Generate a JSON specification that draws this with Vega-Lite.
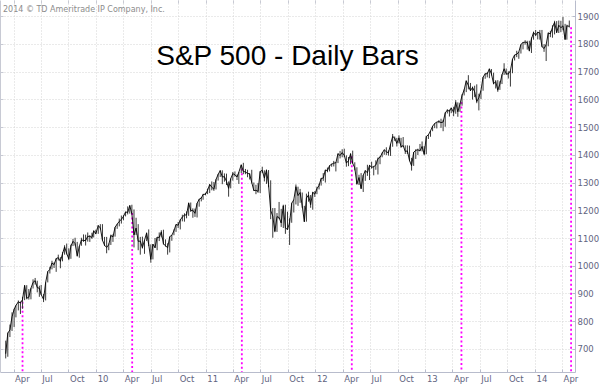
{
"$schema": "https://vega.github.io/schema/vega-lite/v6.json",
"width": 575,
"height": 372,
"autosize": {"type": "none"},
"padding": {"left": 0, "top": 0, "right": 25, "bottom": 12},
"background": "white",
"config": {"view": {"stroke": null}, "font": "DejaVu Sans"},
"title": {"text": "S&P 500 - Daily Bars", "font": "Liberation Sans", "fontSize": 28, "fontWeight": "normal", "color": "#000000", "anchor": "middle", "frame": "group", "baseline": "alphabetic", "offset": -93},
"datasets": {
"may": [
{"d": "2009-05-01", "top": 870},
{"d": "2010-05-01", "top": 1190},
{"d": "2011-05-01", "top": 1350},
{"d": "2012-05-01", "top": 1395},
{"d": "2013-05-01", "top": 1590},
{"d": "2014-05-01", "top": 1860}
],
"note": [{"d": "2009-02-25", "v": 1915, "t": "2014 © TD Ameritrade IP Company, Inc."}],
"px": [
{"d":"2009-03-06","l":666,"h":730,"c":683},
{"d":"2009-03-13","l":672,"h":759,"c":757},
{"d":"2009-03-20","l":743,"h":788,"c":769},
{"d":"2009-03-27","l":765,"h":832,"c":816},
{"d":"2009-04-03","l":779,"h":845,"c":843},
{"d":"2009-04-09","l":814,"h":858,"c":857},
{"d":"2009-04-17","l":839,"h":875,"c":870},
{"d":"2009-04-24","l":826,"h":871,"c":866},
{"d":"2009-05-01","l":845,"h":888,"c":878},
{"d":"2009-05-08","l":876,"h":930,"c":929},
{"d":"2009-05-15","l":879,"h":930,"c":883},
{"d":"2009-05-22","l":878,"h":916,"c":887},
{"d":"2009-05-29","l":879,"h":920,"c":919},
{"d":"2009-06-05","l":918,"h":951,"c":940},
{"d":"2009-06-12","l":932,"h":956,"c":946},
{"d":"2009-06-19","l":904,"h":946,"c":921},
{"d":"2009-06-26","l":888,"h":928,"c":919},
{"d":"2009-07-02","l":895,"h":931,"c":896},
{"d":"2009-07-10","l":869,"h":898,"c":879},
{"d":"2009-07-17","l":875,"h":941,"c":940},
{"d":"2009-07-24","l":940,"h":980,"c":979},
{"d":"2009-07-31","l":972,"h":996,"c":987},
{"d":"2009-08-07","l":987,"h":1018,"c":1010},
{"d":"2009-08-14","l":992,"h":1012,"c":1004},
{"d":"2009-08-21","l":978,"h":1027,"c":1026},
{"d":"2009-08-28","l":1019,"h":1040,"c":1029},
{"d":"2009-09-04","l":991,"h":1031,"c":1016},
{"d":"2009-09-11","l":1016,"h":1049,"c":1043},
{"d":"2009-09-18","l":1040,"h":1074,"c":1068},
{"d":"2009-09-25","l":1041,"h":1080,"c":1044},
{"d":"2009-10-02","l":1020,"h":1063,"c":1025},
{"d":"2009-10-09","l":1025,"h":1076,"c":1071},
{"d":"2009-10-16","l":1071,"h":1097,"c":1088},
{"d":"2009-10-23","l":1073,"h":1101,"c":1080},
{"d":"2009-10-30","l":1033,"h":1086,"c":1036},
{"d":"2009-11-06","l":1029,"h":1071,"c":1069},
{"d":"2009-11-13","l":1072,"h":1101,"c":1093},
{"d":"2009-11-20","l":1086,"h":1113,"c":1091},
{"d":"2009-11-27","l":1073,"h":1112,"c":1091},
{"d":"2009-12-04","l":1087,"h":1120,"c":1106},
{"d":"2009-12-11","l":1086,"h":1110,"c":1106},
{"d":"2009-12-18","l":1097,"h":1119,"c":1102},
{"d":"2009-12-24","l":1102,"h":1127,"c":1126},
{"d":"2009-12-31","l":1114,"h":1130,"c":1115},
{"d":"2010-01-08","l":1115,"h":1146,"c":1145},
{"d":"2010-01-15","l":1131,"h":1150,"c":1136},
{"d":"2010-01-22","l":1090,"h":1150,"c":1092},
{"d":"2010-01-29","l":1071,"h":1104,"c":1074},
{"d":"2010-02-05","l":1045,"h":1104,"c":1066},
{"d":"2010-02-12","l":1056,"h":1080,"c":1076},
{"d":"2010-02-19","l":1075,"h":1112,"c":1109},
{"d":"2010-02-26","l":1086,"h":1113,"c":1104},
{"d":"2010-03-05","l":1105,"h":1139,"c":1139},
{"d":"2010-03-12","l":1133,"h":1151,"c":1150},
{"d":"2010-03-19","l":1142,"h":1170,"c":1160},
{"d":"2010-03-26","l":1152,"h":1181,"c":1167},
{"d":"2010-04-02","l":1164,"h":1182,"c":1178},
{"d":"2010-04-09","l":1178,"h":1195,"c":1194},
{"d":"2010-04-16","l":1185,"h":1214,"c":1192},
{"d":"2010-04-23","l":1188,"h":1218,"c":1217},
{"d":"2010-04-30","l":1186,"h":1220,"c":1187},
{"d":"2010-05-07","l":1066,"h":1203,"c":1111},
{"d":"2010-05-14","l":1111,"h":1173,"c":1136},
{"d":"2010-05-21","l":1056,"h":1150,"c":1088},
{"d":"2010-05-28","l":1040,"h":1104,"c":1089},
{"d":"2010-06-04","l":1062,"h":1105,"c":1065},
{"d":"2010-06-11","l":1043,"h":1093,"c":1092},
{"d":"2010-06-18","l":1089,"h":1120,"c":1118},
{"d":"2010-06-25","l":1071,"h":1131,"c":1077},
{"d":"2010-07-02","l":1011,"h":1077,"c":1023},
{"d":"2010-07-09","l":1023,"h":1078,"c":1078},
{"d":"2010-07-16","l":1064,"h":1100,"c":1065},
{"d":"2010-07-23","l":1056,"h":1103,"c":1103},
{"d":"2010-07-30","l":1089,"h":1120,"c":1102},
{"d":"2010-08-06","l":1102,"h":1128,"c":1122},
{"d":"2010-08-13","l":1076,"h":1130,"c":1079},
{"d":"2010-08-20","l":1069,"h":1095,"c":1072},
{"d":"2010-08-27","l":1040,"h":1081,"c":1065},
{"d":"2010-09-03","l":1048,"h":1105,"c":1105},
{"d":"2010-09-10","l":1090,"h":1111,"c":1110},
{"d":"2010-09-17","l":1110,"h":1131,"c":1126},
{"d":"2010-09-24","l":1122,"h":1149,"c":1149},
{"d":"2010-10-01","l":1136,"h":1158,"c":1146},
{"d":"2010-10-08","l":1131,"h":1167,"c":1165},
{"d":"2010-10-15","l":1160,"h":1184,"c":1176},
{"d":"2010-10-22","l":1159,"h":1189,"c":1183},
{"d":"2010-10-29","l":1171,"h":1196,"c":1183},
{"d":"2010-11-05","l":1180,"h":1228,"c":1226},
{"d":"2010-11-12","l":1194,"h":1228,"c":1199},
{"d":"2010-11-19","l":1173,"h":1207,"c":1200},
{"d":"2010-11-26","l":1176,"h":1206,"c":1189},
{"d":"2010-12-03","l":1174,"h":1226,"c":1225},
{"d":"2010-12-10","l":1213,"h":1241,"c":1240},
{"d":"2010-12-17","l":1232,"h":1247,"c":1244},
{"d":"2010-12-23","l":1238,"h":1259,"c":1257},
{"d":"2010-12-31","l":1254,"h":1263,"c":1258},
{"d":"2011-01-07","l":1258,"h":1278,"c":1272},
{"d":"2011-01-14","l":1262,"h":1294,"c":1293},
{"d":"2011-01-21","l":1272,"h":1304,"c":1283},
{"d":"2011-01-28","l":1270,"h":1302,"c":1276},
{"d":"2011-02-04","l":1275,"h":1312,"c":1311},
{"d":"2011-02-11","l":1307,"h":1331,"c":1329},
{"d":"2011-02-18","l":1320,"h":1344,"c":1343},
{"d":"2011-02-25","l":1294,"h":1344,"c":1320},
{"d":"2011-03-04","l":1303,"h":1333,"c":1321},
{"d":"2011-03-11","l":1291,"h":1332,"c":1304},
{"d":"2011-03-18","l":1249,"h":1304,"c":1279},
{"d":"2011-03-25","l":1279,"h":1315,"c":1314},
{"d":"2011-04-01","l":1307,"h":1338,"c":1332},
{"d":"2011-04-08","l":1321,"h":1340,"c":1328},
{"d":"2011-04-15","l":1309,"h":1329,"c":1320},
{"d":"2011-04-21","l":1295,"h":1338,"c":1337},
{"d":"2011-04-29","l":1334,"h":1364,"c":1364},
{"d":"2011-05-06","l":1330,"h":1371,"c":1340},
{"d":"2011-05-13","l":1330,"h":1349,"c":1338},
{"d":"2011-05-20","l":1319,"h":1346,"c":1333},
{"d":"2011-05-27","l":1311,"h":1334,"c":1331},
{"d":"2011-06-03","l":1297,"h":1346,"c":1300},
{"d":"2011-06-10","l":1270,"h":1300,"c":1271},
{"d":"2011-06-17","l":1258,"h":1292,"c":1272},
{"d":"2011-06-24","l":1263,"h":1298,"c":1268},
{"d":"2011-07-01","l":1262,"h":1341,"c":1340},
{"d":"2011-07-08","l":1334,"h":1357,"c":1344},
{"d":"2011-07-15","l":1304,"h":1344,"c":1316},
{"d":"2011-07-22","l":1295,"h":1347,"c":1345},
{"d":"2011-07-29","l":1283,"h":1345,"c":1292},
{"d":"2011-08-05","l":1168,"h":1308,"c":1199},
{"d":"2011-08-12","l":1101,"h":1208,"c":1179},
{"d":"2011-08-19","l":1121,"h":1208,"c":1124},
{"d":"2011-08-26","l":1122,"h":1190,"c":1177},
{"d":"2011-09-02","l":1168,"h":1230,"c":1174},
{"d":"2011-09-09","l":1140,"h":1205,"c":1154},
{"d":"2011-09-16","l":1136,"h":1220,"c":1216},
{"d":"2011-09-23","l":1115,"h":1220,"c":1136},
{"d":"2011-09-30","l":1129,"h":1195,"c":1131},
{"d":"2011-10-07","l":1075,"h":1171,"c":1155},
{"d":"2011-10-14","l":1155,"h":1227,"c":1225},
{"d":"2011-10-21","l":1192,"h":1239,"c":1238},
{"d":"2011-10-28","l":1221,"h":1293,"c":1285},
{"d":"2011-11-04","l":1216,"h":1285,"c":1253},
{"d":"2011-11-11","l":1227,"h":1277,"c":1264},
{"d":"2011-11-18","l":1209,"h":1264,"c":1216},
{"d":"2011-11-25","l":1158,"h":1216,"c":1159},
{"d":"2011-12-02","l":1159,"h":1260,"c":1244},
{"d":"2011-12-09","l":1231,"h":1267,"c":1255},
{"d":"2011-12-16","l":1209,"h":1255,"c":1220},
{"d":"2011-12-23","l":1202,"h":1266,"c":1265},
{"d":"2011-12-30","l":1248,"h":1269,"c":1258},
{"d":"2012-01-06","l":1258,"h":1285,"c":1278},
{"d":"2012-01-13","l":1275,"h":1296,"c":1289},
{"d":"2012-01-20","l":1289,"h":1316,"c":1315},
{"d":"2012-01-27","l":1306,"h":1334,"c":1316},
{"d":"2012-02-03","l":1300,"h":1346,"c":1345},
{"d":"2012-02-10","l":1337,"h":1354,"c":1343},
{"d":"2012-02-17","l":1340,"h":1362,"c":1361},
{"d":"2012-02-24","l":1357,"h":1368,"c":1366},
{"d":"2012-03-02","l":1358,"h":1378,"c":1370},
{"d":"2012-03-09","l":1340,"h":1374,"c":1371},
{"d":"2012-03-16","l":1370,"h":1405,"c":1404},
{"d":"2012-03-23","l":1387,"h":1414,"c":1397},
{"d":"2012-03-30","l":1391,"h":1420,"c":1408},
{"d":"2012-04-06","l":1393,"h":1422,"c":1398},
{"d":"2012-04-13","l":1357,"h":1398,"c":1370},
{"d":"2012-04-20","l":1359,"h":1392,"c":1379},
{"d":"2012-04-27","l":1366,"h":1406,"c":1403},
{"d":"2012-05-04","l":1368,"h":1415,"c":1369},
{"d":"2012-05-11","l":1344,"h":1373,"c":1353},
{"d":"2012-05-18","l":1292,"h":1355,"c":1295},
{"d":"2012-05-25","l":1291,"h":1328,"c":1318},
{"d":"2012-06-01","l":1277,"h":1334,"c":1278},
{"d":"2012-06-08","l":1266,"h":1327,"c":1326},
{"d":"2012-06-15","l":1306,"h":1344,"c":1343},
{"d":"2012-06-22","l":1324,"h":1364,"c":1335},
{"d":"2012-06-29","l":1309,"h":1363,"c":1362},
{"d":"2012-07-06","l":1350,"h":1375,"c":1355},
{"d":"2012-07-13","l":1326,"h":1360,"c":1357},
{"d":"2012-07-20","l":1346,"h":1380,"c":1363},
{"d":"2012-07-27","l":1329,"h":1390,"c":1386},
{"d":"2012-08-03","l":1366,"h":1395,"c":1391},
{"d":"2012-08-10","l":1391,"h":1408,"c":1406},
{"d":"2012-08-17","l":1400,"h":1419,"c":1418},
{"d":"2012-08-24","l":1399,"h":1427,"c":1411},
{"d":"2012-08-31","l":1397,"h":1416,"c":1407},
{"d":"2012-09-07","l":1396,"h":1439,"c":1438},
{"d":"2012-09-14","l":1429,"h":1475,"c":1466},
{"d":"2012-09-21","l":1450,"h":1466,"c":1460},
{"d":"2012-09-28","l":1430,"h":1461,"c":1441},
{"d":"2012-10-05","l":1441,"h":1470,"c":1461},
{"d":"2012-10-12","l":1425,"h":1461,"c":1429},
{"d":"2012-10-19","l":1429,"h":1464,"c":1433},
{"d":"2012-10-26","l":1403,"h":1434,"c":1412},
{"d":"2012-11-02","l":1403,"h":1434,"c":1414},
{"d":"2012-11-09","l":1377,"h":1433,"c":1380},
{"d":"2012-11-16","l":1343,"h":1389,"c":1360},
{"d":"2012-11-23","l":1360,"h":1410,"c":1409},
{"d":"2012-11-30","l":1385,"h":1420,"c":1416},
{"d":"2012-12-07","l":1399,"h":1422,"c":1418},
{"d":"2012-12-14","l":1413,"h":1439,"c":1414},
{"d":"2012-12-21","l":1412,"h":1448,"c":1430},
{"d":"2012-12-28","l":1398,"h":1431,"c":1402},
{"d":"2013-01-04","l":1402,"h":1467,"c":1466},
{"d":"2013-01-11","l":1457,"h":1473,"c":1472},
{"d":"2013-01-18","l":1465,"h":1486,"c":1486},
{"d":"2013-01-25","l":1485,"h":1504,"c":1503},
{"d":"2013-02-01","l":1496,"h":1514,"c":1513},
{"d":"2013-02-08","l":1495,"h":1518,"c":1518},
{"d":"2013-02-15","l":1514,"h":1525,"c":1520},
{"d":"2013-02-22","l":1497,"h":1530,"c":1516},
{"d":"2013-03-01","l":1485,"h":1526,"c":1518},
{"d":"2013-03-08","l":1501,"h":1553,"c":1551},
{"d":"2013-03-15","l":1549,"h":1564,"c":1561},
{"d":"2013-03-22","l":1538,"h":1563,"c":1557},
{"d":"2013-03-28","l":1550,"h":1570,"c":1569},
{"d":"2013-04-05","l":1539,"h":1573,"c":1553},
{"d":"2013-04-12","l":1548,"h":1597,"c":1589},
{"d":"2013-04-19","l":1537,"h":1589,"c":1555},
{"d":"2013-04-26","l":1555,"h":1586,"c":1582},
{"d":"2013-05-03","l":1577,"h":1618,"c":1614},
{"d":"2013-05-10","l":1614,"h":1636,"c":1634},
{"d":"2013-05-17","l":1626,"h":1667,"c":1667},
{"d":"2013-05-24","l":1636,"h":1687,"c":1650},
{"d":"2013-05-31","l":1630,"h":1659,"c":1631},
{"d":"2013-06-07","l":1599,"h":1646,"c":1643},
{"d":"2013-06-14","l":1608,"h":1649,"c":1627},
{"d":"2013-06-21","l":1586,"h":1654,"c":1592},
{"d":"2013-06-28","l":1560,"h":1620,"c":1606},
{"d":"2013-07-05","l":1601,"h":1632,"c":1632},
{"d":"2013-07-12","l":1631,"h":1680,"c":1680},
{"d":"2013-07-19","l":1674,"h":1694,"c":1692},
{"d":"2013-07-26","l":1679,"h":1698,"c":1692},
{"d":"2013-08-02","l":1676,"h":1710,"c":1710},
{"d":"2013-08-09","l":1686,"h":1709,"c":1691},
{"d":"2013-08-16","l":1654,"h":1696,"c":1656},
{"d":"2013-08-23","l":1639,"h":1669,"c":1664},
{"d":"2013-08-30","l":1627,"h":1669,"c":1633},
{"d":"2013-09-06","l":1634,"h":1665,"c":1655},
{"d":"2013-09-13","l":1655,"h":1690,"c":1688},
{"d":"2013-09-20","l":1688,"h":1730,"c":1710},
{"d":"2013-09-27","l":1688,"h":1711,"c":1692},
{"d":"2013-10-04","l":1675,"h":1701,"c":1691},
{"d":"2013-10-11","l":1646,"h":1704,"c":1703},
{"d":"2013-10-18","l":1694,"h":1745,"c":1745},
{"d":"2013-10-25","l":1740,"h":1760,"c":1760},
{"d":"2013-11-01","l":1752,"h":1775,"c":1762},
{"d":"2013-11-08","l":1746,"h":1771,"c":1771},
{"d":"2013-11-15","l":1765,"h":1798,"c":1798},
{"d":"2013-11-22","l":1780,"h":1806,"c":1805},
{"d":"2013-11-29","l":1797,"h":1813,"c":1806},
{"d":"2013-12-06","l":1779,"h":1811,"c":1805},
{"d":"2013-12-13","l":1773,"h":1811,"c":1775},
{"d":"2013-12-20","l":1767,"h":1823,"c":1818},
{"d":"2013-12-27","l":1815,"h":1844,"c":1841},
{"d":"2014-01-03","l":1828,"h":1850,"c":1831},
{"d":"2014-01-10","l":1816,"h":1843,"c":1842},
{"d":"2014-01-17","l":1815,"h":1850,"c":1839},
{"d":"2014-01-24","l":1788,"h":1850,"c":1790},
{"d":"2014-01-31","l":1771,"h":1799,"c":1783},
{"d":"2014-02-07","l":1738,"h":1798,"c":1797},
{"d":"2014-02-14","l":1791,"h":1841,"c":1839},
{"d":"2014-02-21","l":1824,"h":1847,"c":1836},
{"d":"2014-02-28","l":1822,"h":1867,"c":1859},
{"d":"2014-03-07","l":1834,"h":1883,"c":1878},
{"d":"2014-03-14","l":1839,"h":1882,"c":1841},
{"d":"2014-03-21","l":1839,"h":1884,"c":1867},
{"d":"2014-03-28","l":1842,"h":1883,"c":1858},
{"d":"2014-04-04","l":1849,"h":1897,"c":1865},
{"d":"2014-04-11","l":1814,"h":1872,"c":1816},
{"d":"2014-04-17","l":1815,"h":1869,"c":1865},
{"d":"2014-04-25","l":1859,"h":1884,"c":1863}
]
},
"resolve": {"axis": {"x": "independent", "y": "independent"}},
"layer": [
{
"data": {"name": "may"},
"mark": {"type": "rule", "color": "#ff00ff", "strokeDash": [2, 2.5], "strokeWidth": 1.8},
"encoding": {
"x": {"field": "d", "type": "temporal",
"scale": {"type": "utc", "domain": [{"year": 2009, "month": 2, "date": 15, "utc": true}, {"year": 2014, "month": 5, "date": 14, "utc": true}]},
"axis": {"orient": "bottom", "title": null, "grid": true, "gridColor": "#d4d4d4", "gridDash": [1, 2],
"values": [
{"year": 2009, "month": 4, "date": 1, "utc": true}, {"year": 2009, "month": 7, "date": 1, "utc": true}, {"year": 2009, "month": 10, "date": 1, "utc": true},
{"year": 2010, "month": 1, "date": 1, "utc": true}, {"year": 2010, "month": 4, "date": 1, "utc": true}, {"year": 2010, "month": 7, "date": 1, "utc": true}, {"year": 2010, "month": 10, "date": 1, "utc": true},
{"year": 2011, "month": 1, "date": 1, "utc": true}, {"year": 2011, "month": 4, "date": 1, "utc": true}, {"year": 2011, "month": 7, "date": 1, "utc": true}, {"year": 2011, "month": 10, "date": 1, "utc": true},
{"year": 2012, "month": 1, "date": 1, "utc": true}, {"year": 2012, "month": 4, "date": 1, "utc": true}, {"year": 2012, "month": 7, "date": 1, "utc": true}, {"year": 2012, "month": 10, "date": 1, "utc": true},
{"year": 2013, "month": 1, "date": 1, "utc": true}, {"year": 2013, "month": 4, "date": 1, "utc": true}, {"year": 2013, "month": 7, "date": 1, "utc": true}, {"year": 2013, "month": 10, "date": 1, "utc": true},
{"year": 2014, "month": 1, "date": 1, "utc": true}, {"year": 2014, "month": 4, "date": 1, "utc": true}
],
"labelExpr": "utcFormat(datum.value, '%m') == '01' ? utcFormat(datum.value, '%y') : utcFormat(datum.value, '%b')",
"labelAlign": "left", "labelBaseline": "top", "labelOffset": 1, "labelPadding": 5, "labelFontSize": 8.5, "labelColor": "#5f6480", "labelFont": "DejaVu Sans", "labelFlush": false, "labelOverlap": false,
"domainColor": "#b8bccc", "tickColor": "#b8bccc", "tickSize": -3}
},
"y": {"field": "top", "type": "quantitative",
"scale": {"domain": [617, 1958], "nice": false, "zero": false},
"axis": {"orient": "right", "title": null, "grid": true, "gridColor": "#d4d4d4", "gridDash": [1, 2],
"values": [700, 800, 900, 1000, 1100, 1200, 1300, 1400, 1500, 1600, 1700, 1800, 1900],
"format": "d", "labelAlign": "left", "labelBaseline": "middle", "labelPadding": 5, "labelFontSize": 8.5, "labelColor": "#5f6480", "labelFont": "DejaVu Sans", "labelFlush": false, "labelOverlap": false,
"domainColor": "#b8bccc", "tickColor": "#b8bccc", "tickSize": -3}
},
"y2": {"datum": 617}
}
},
{
"data": {"name": "px"},
"mark": {"type": "rule", "color": "#3a3a3a", "strokeWidth": 1},
"encoding": {
"x": {"field": "d", "type": "temporal", "axis": null},
"y": {"field": "l", "type": "quantitative", "axis": null},
"y2": {"field": "h"}
}
},
{
"data": {"name": "px"},
"mark": {"type": "line", "color": "#000000", "strokeWidth": 0.9},
"encoding": {
"x": {"field": "d", "type": "temporal", "axis": null},
"y": {"field": "c", "type": "quantitative", "axis": null}
}
},
{
"data": {"name": "note"},
"mark": {"type": "text", "align": "left", "baseline": "alphabetic", "fontSize": 8, "font": "DejaVu Sans", "color": "#8c8c8c"},
"encoding": {
"x": {"field": "d", "type": "temporal",
"axis": {"orient": "top", "title": null, "grid": false, "labels": false, "domain": false, "tickColor": "#c8cad4", "tickSize": -3,
"values": [
{"year": 2009, "month": 4, "date": 1, "utc": true}, {"year": 2009, "month": 7, "date": 1, "utc": true}, {"year": 2009, "month": 10, "date": 1, "utc": true},
{"year": 2010, "month": 1, "date": 1, "utc": true}, {"year": 2010, "month": 4, "date": 1, "utc": true}, {"year": 2010, "month": 7, "date": 1, "utc": true}, {"year": 2010, "month": 10, "date": 1, "utc": true},
{"year": 2011, "month": 1, "date": 1, "utc": true}, {"year": 2011, "month": 4, "date": 1, "utc": true}, {"year": 2011, "month": 7, "date": 1, "utc": true}, {"year": 2011, "month": 10, "date": 1, "utc": true},
{"year": 2012, "month": 1, "date": 1, "utc": true}, {"year": 2012, "month": 4, "date": 1, "utc": true}, {"year": 2012, "month": 7, "date": 1, "utc": true}, {"year": 2012, "month": 10, "date": 1, "utc": true},
{"year": 2013, "month": 1, "date": 1, "utc": true}, {"year": 2013, "month": 4, "date": 1, "utc": true}, {"year": 2013, "month": 7, "date": 1, "utc": true}, {"year": 2013, "month": 10, "date": 1, "utc": true},
{"year": 2014, "month": 1, "date": 1, "utc": true}, {"year": 2014, "month": 4, "date": 1, "utc": true}
]}},
"y": {"field": "v", "type": "quantitative",
"axis": {"orient": "left", "title": null, "grid": false, "labels": false, "domainColor": "#c8cad4", "tickColor": "#c8cad4", "tickSize": -3,
"values": [700, 800, 900, 1000, 1100, 1200, 1300, 1400, 1500, 1600, 1700, 1800, 1900]}},
"text": {"field": "t"}
}
}
]
}
